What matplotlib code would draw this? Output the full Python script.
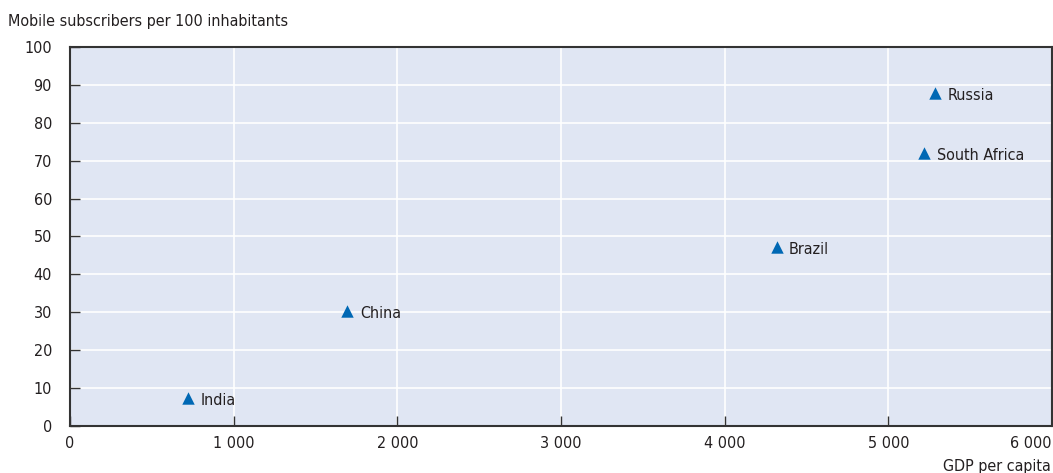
import matplotlib.pyplot as plt
from matplotlib.ticker import FuncFormatter

plt.rcParams['font.family'] = ['DejaVu Sans']
plt.rcParams['font.stretch'] = 'condensed'

countries = ['India', 'China', 'Brazil', 'South Africa', 'Russia']
gdp = [720, 1695, 4317, 5220, 5287]
mobile = [7.4, 30.3, 47.2, 72.0, 87.9]

fig = plt.figure(figsize=(10.53, 4.73), dpi=100)
ax = fig.add_axes([0.0665, 0.0994, 0.9325, 0.8013])
ax.set_facecolor('#e0e6f3')

ax.scatter(gdp, mobile, marker='^', s=80, color='#0068b4', zorder=3, linewidths=0)
for name, x, y in zip(countries, gdp, mobile):
    ax.annotate(name, (x, y), xytext=(9, -2), textcoords='offset points',
                fontsize=11.5, color='#231f20', va='center', ha='left')

ax.set_xlim(0, 6000)
ax.set_ylim(0, 100)
ax.set_xticks(range(0, 6001, 1000))
ax.set_yticks(range(0, 101, 10))
ax.xaxis.set_major_formatter(FuncFormatter(lambda v, p: f'{int(v):,}'.replace(',', ' ')))
ax.grid(True, color='white', linewidth=1.2)
ax.set_axisbelow(True)
ax.tick_params(direction='in', length=7, width=1, color='#333333',
               labelsize=11.5, labelcolor='#231f20')
ax.tick_params(axis='x', pad=7)
ax.tick_params(axis='y', pad=13)
ax.get_xticklabels()[-1].set_horizontalalignment('right')
for s in ax.spines.values():
    s.set_color('#333333')
    s.set_linewidth(1.5)

fig.text(0.008, 0.955, 'Mobile subscribers per 100 inhabitants', fontsize=11.5,
         color='#231f20', ha='left', va='center')
fig.text(0.998, -0.003, 'GDP per capita', fontsize=11.5, color='#231f20',
         ha='right', va='bottom')

plt.savefig('out.png', dpi=100)
